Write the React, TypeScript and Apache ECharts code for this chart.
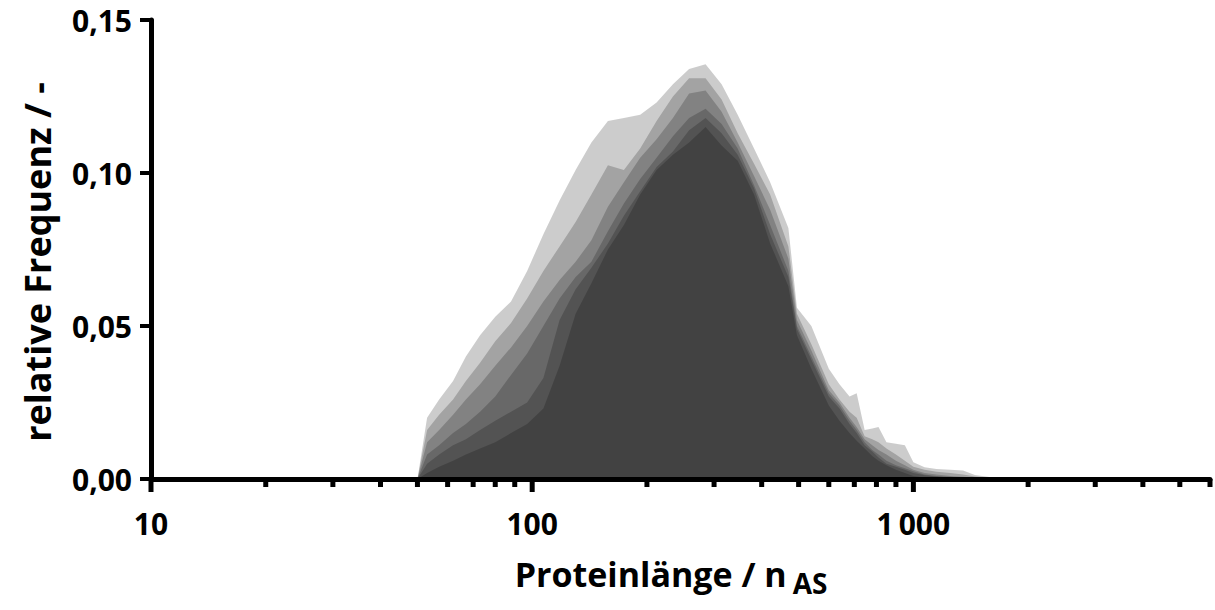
import { useEffect, useRef } from "react";
import * as echarts from "echarts";

// Protein length bins (amino acids) shared by every distribution
const lengths = [
  50, 53, 57, 62, 67, 73, 80, 88, 97, 107, 118, 130, 143, 158, 174, 192, 212, 234, 258, 285,
  314, 346, 382, 421, 470, 495, 540, 600, 640, 680, 710, 745, 780, 810, 850, 900, 950, 1000,
  1070, 1150, 1250, 1350, 1450, 1600, 1800, 2100, 2600,
];

// Relative frequencies, one array per proteome
const freqSet1 = [
  0, 0.02, 0.026, 0.032, 0.04, 0.047, 0.053, 0.058, 0.068, 0.08, 0.091, 0.101, 0.11, 0.117, 0.118,
  0.119, 0.123, 0.129, 0.134, 0.1355, 0.129, 0.119, 0.108, 0.097, 0.082, 0.056, 0.05, 0.036, 0.031,
  0.027, 0.028, 0.016, 0.0165, 0.017, 0.012, 0.0115, 0.011, 0.0055, 0.0038, 0.0033, 0.003, 0.0028,
  0.0013, 0.0006, 0.0003, 0.0002, 0.0004,
];
const freqSet2 = [
  0, 0.016, 0.021, 0.026, 0.032, 0.038, 0.045, 0.051, 0.059, 0.068, 0.076, 0.084, 0.093, 0.1025,
  0.101, 0.108, 0.117, 0.125, 0.131, 0.131, 0.124, 0.113, 0.103, 0.093, 0.076, 0.054, 0.044, 0.031,
  0.026, 0.022, 0.02, 0.014, 0.013, 0.012, 0.01, 0.008, 0.006, 0.004, 0.003, 0.0024, 0.002, 0.0015,
  0.0008, 0.0004, 0.0002, 0.0001, 0,
];
const freqSet3 = [
  0, 0.012, 0.016, 0.021, 0.026, 0.031, 0.037, 0.043, 0.05, 0.058, 0.065, 0.071, 0.078, 0.089,
  0.097, 0.105, 0.111, 0.118, 0.126, 0.127, 0.12, 0.11, 0.099, 0.088, 0.072, 0.052, 0.042, 0.029,
  0.025, 0.02, 0.017, 0.013, 0.011, 0.0095, 0.008, 0.006, 0.0045, 0.003, 0.002, 0.0015, 0.001,
  0.0007, 0.0004, 0.0002, 0.0001, 0, 0,
];
const freqSet4 = [
  0, 0.008, 0.011, 0.015, 0.018, 0.022, 0.027, 0.034, 0.041, 0.05, 0.059, 0.066, 0.071, 0.081,
  0.09, 0.098, 0.105, 0.112, 0.118, 0.121, 0.116, 0.108, 0.096, 0.083, 0.068, 0.05, 0.04, 0.028,
  0.024, 0.019, 0.016, 0.012, 0.0095, 0.008, 0.006, 0.0045, 0.0035, 0.0025, 0.0015, 0.001, 0.0007,
  0.0004, 0.0002, 0.0001, 0, 0, 0,
];
const freqSet5 = [
  0, 0.005, 0.008, 0.011, 0.013, 0.016, 0.019, 0.022, 0.025, 0.033, 0.052, 0.062, 0.069, 0.077,
  0.086, 0.094, 0.102, 0.107, 0.114, 0.118, 0.113, 0.106, 0.095, 0.08, 0.066, 0.049, 0.039, 0.027,
  0.023, 0.018, 0.015, 0.011, 0.009, 0.007, 0.005, 0.004, 0.003, 0.002, 0.0012, 0.0008, 0.0005,
  0.0003, 0.0001, 0, 0, 0, 0,
];
const freqSet6 = [
  0, 0.002, 0.004, 0.006, 0.008, 0.01, 0.012, 0.015, 0.018, 0.023, 0.037, 0.054, 0.064, 0.075,
  0.083, 0.093, 0.101, 0.106, 0.11, 0.115, 0.109, 0.104, 0.093, 0.077, 0.063, 0.047, 0.036, 0.024,
  0.019, 0.015, 0.0125, 0.01, 0.0075, 0.006, 0.0045, 0.003, 0.002, 0.001, 0.0005, 0.0002, 0, 0, 0,
  0, 0, 0, 0,
];

// Log-axis tick positions
const majorTicks = [10, 100, 1000];
const minorTicks = [
  20, 30, 40, 50, 60, 70, 80, 90, 200, 300, 400, 500, 600, 700, 800, 900, 2000, 3000, 4000, 5000,
  6000,
];
const xLabels: Record<number, string> = { 10: "10", 100: "100", 1000: "1\u2009000" };

const FONT = "'Open Sans', 'DejaVu Sans', sans-serif";

export default function App() {
  const ref = useRef<HTMLDivElement>(null);

  useEffect(() => {
    if (!ref.current) return;
    const chart = echarts.init(ref.current, null, { renderer: "svg" });
    const sets = [freqSet1, freqSet2, freqSet3, freqSet4, freqSet5, freqSet6];

    const areaSeries = sets.map((vals, i) => ({
      type: "line",
      name: `Set ${i + 1}`,
      data: lengths.map((x, j) => [x, vals[j]]),
      symbol: "none",
      showSymbol: false,
      lineStyle: { width: 0, opacity: 0 },
      areaStyle: { color: "rgba(0,0,0,0.2)", opacity: 1 },
      silent: true,
      z: 1,
    }));

    const tickSeries = {
      type: "custom",
      data: [...majorTicks.map((v) => [v, 0, 1]), ...minorTicks.map((v) => [v, 0, 0])],
      encode: { x: 0, y: 1 },
      clip: false,
      silent: true,
      z: 5,
      renderItem: (_p: any, api: any) => {
        const v = api.value(0);
        const major = api.value(2);
        const pt = api.coord([v, 0]);
        return {
          type: "rect",
          shape: { x: pt[0] - 2.5, y: pt[1], width: 5, height: major ? 13 : 8 },
          style: { fill: "#000" },
        };
      },
    };

    chart.setOption({
      animation: false,
      backgroundColor: "#fff",
      grid: { left: 151, right: 5, top: 20, bottom: 131, containLabel: false },
      xAxis: {
        type: "log",
        logBase: 10,
        min: 10,
        max: 6000,
        axisLine: { show: true, lineStyle: { color: "#000", width: 5 } },
        axisTick: { show: false },
        minorTick: { show: false },
        splitLine: { show: false },
        axisLabel: {
          margin: 29,
          showMaxLabel: false,
          color: "#000",
          fontFamily: FONT,
          fontWeight: "bold",
          fontSize: 30,
          formatter: (v: number) => xLabels[Math.round(v)] ?? "",
        },
      },
      yAxis: {
        type: "value",
        min: 0,
        max: 0.15,
        interval: 0.05,
        axisLine: { show: true, lineStyle: { color: "#000", width: 5 } },
        axisTick: { show: true, length: 11, lineStyle: { color: "#000", width: 4 } },
        splitLine: { show: false },
        axisLabel: {
          margin: 19,
          color: "#000",
          fontFamily: FONT,
          fontWeight: "bold",
          fontSize: 30,
          formatter: (v: number) => v.toFixed(2).replace(".", ","),
        },
      },
      graphic: [
        {
          type: "text",
          x: 37,
          y: 262,
          rotation: Math.PI / 2,
          style: {
            text: "relative Frequenz / -",
            fill: "#000",
            fontFamily: FONT,
            fontWeight: "bold",
            fontSize: 36,
            align: "center",
            verticalAlign: "middle",
            textAlign: "center",
            textVerticalAlign: "middle",
          },
        },
        {
          type: "text",
          x: 671,
          y: 574,
          style: {
            text: "{m|Proteinlänge / n}{s|AS}",
            fill: "#000",
            align: "center",
            verticalAlign: "middle",
            textAlign: "center",
            textVerticalAlign: "middle",
            rich: {
              m: { fontFamily: FONT, fontWeight: "bold", fontSize: 34, fill: "#000" },
              s: {
                fontFamily: FONT,
                fontWeight: "bold",
                fontSize: 28,
                fill: "#000",
                padding: [17, 0, 0, 6],
              },
            },
          },
        },
      ],
      series: [...areaSeries, tickSeries],
    });

    return () => chart.dispose();
  }, []);

  return (
    <div
      ref={ref}
      style={{ position: "fixed", left: 0, top: 0, width: 1215, height: 610, background: "#fff" }}
    />
  );
}
